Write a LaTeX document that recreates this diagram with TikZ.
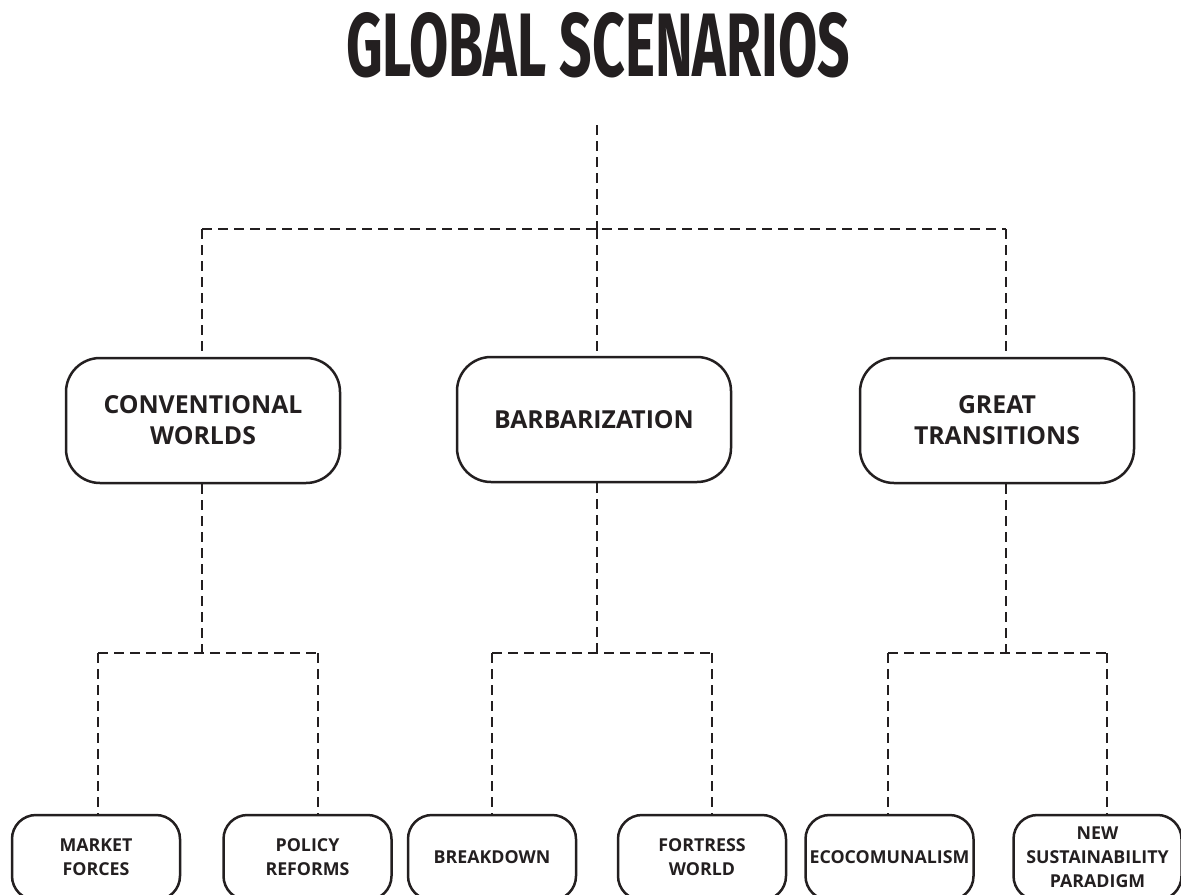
\documentclass[tikz,border=0pt]{standalone}
\usepackage{graphicx}
\usepackage{fontspec}
\setmainfont{Open Sans}
\newfontfamily\headfont{Fira Sans}
\usetikzlibrary{positioning}
\definecolor{ink}{HTML}{231F20}

\begin{document}
\begin{tikzpicture}[x=0.5pt,y=-0.5pt,
    scen/.style={draw=ink, text=ink, line width=1.25pt, rounded corners=17pt,
      minimum width=137pt, minimum height=62.5pt, inner sep=2pt, align=center,
      font=\fontsize{12.4}{15.5}\selectfont\bfseries},
    sub/.style={draw=ink, text=ink, line width=1.25pt, rounded corners=12pt,
      minimum width=84pt, minimum height=42.5pt, inner sep=1pt, align=center,
      font=\fontsize{8.9}{12}\selectfont\bfseries},
    link/.style={draw=ink, line width=1.35pt, dash pattern=on 5pt off 3pt}]
    \useasboundingbox (0,0) rectangle (1181,894);
    \clip (0,0) rectangle (1181,894);

    % title
    \node[inner sep=0pt, text=ink] (title) at (598,45)
      {\resizebox{252pt}{32pt}{\headfont\bfseries GLOBAL SCENARIOS}};

    % scenario families
    \node[scen] (cw) at (203,420.5) {CONVENTIONAL\\WORLDS};
    \node[scen] (bz) at (594,419.5) {BARBARIZATION};
    \node[scen] (gt) at (997,420.5) {GREAT\\TRANSITIONS};

    % scenario variants
    \node[sub] (mf) at (96,857.5) {MARKET\\FORCES};
    \node[sub] (pr) at (307.5,857.5) {POLICY\\REFORMS};
    \node[sub] (bd) at (492,857.5) {BREAKDOWN};
    \node[sub] (fw) at (702,857.5) {FORTRESS\\WORLD};
    \node[sub] (ec) at (889.5,857.5) {ECOCOMUNALISM};
    \node[sub] (ns) at (1097.5,857.5) {NEW\\SUSTAINABILITY\\PARADIGM};

    % junctions
    \coordinate (root) at (597,125);
    \coordinate (hub) at (597,229);
    \coordinate (hubl) at (202,229);
    \coordinate (hubr) at (1006,229);
    \coordinate (cwj) at (202,653);
    \coordinate (cwl) at (98,653);
    \coordinate (cwr) at (318,653);
    \coordinate (bzj) at (597,653);
    \coordinate (bzl) at (492,653);
    \coordinate (bzr) at (712,653);
    \coordinate (gtj) at (1006,653);
    \coordinate (gtl) at (888,653);
    \coordinate (gtr) at (1107,653);

    % upper tree
    \draw[link] (root) -- (hub);
    \draw[link] (hubl) -- (hubr);
    \draw[link] (hubl) -- (cw.north -| hubl);
    \draw[link] (hub) -- (bz.north -| hub);
    \draw[link] (hubr) -- (gt.north -| hubr);

    % lower trees
    \draw[link] (cw.south -| cwj) -- (cwj);
    \draw[link] (cwl) -- (cwr);
    \draw[link] (cwl) -- (mf.north -| cwl);
    \draw[link] (cwr) -- (pr.north -| cwr);

    \draw[link] (bz.south -| bzj) -- (bzj);
    \draw[link] (bzl) -- (bzr);
    \draw[link] (bzl) -- (bd.north -| bzl);
    \draw[link] (bzr) -- (fw.north -| bzr);

    \draw[link] (gt.south -| gtj) -- (gtj);
    \draw[link] (gtl) -- (gtr);
    \draw[link] (gtl) -- (ec.north -| gtl);
    \draw[link] (gtr) -- (ns.north -| gtr);
\end{tikzpicture}
\end{document}
